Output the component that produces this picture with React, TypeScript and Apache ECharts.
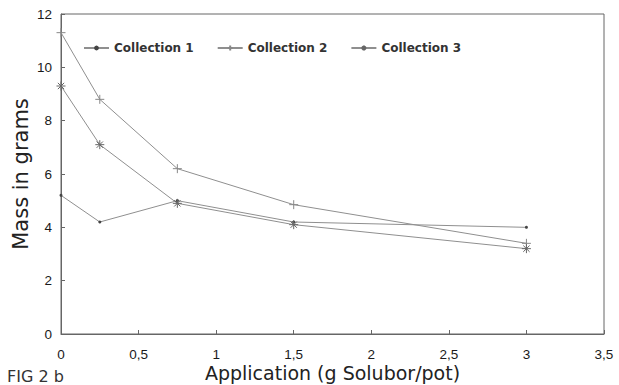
import React, { useEffect, useRef } from "react";
import * as echarts from "echarts";

const xValues = [0, 0.25, 0.75, 1.5, 3];
const collection1 = [5.2, 4.2, 5.0, 4.2, 4.0];
const collection2 = [11.3, 8.8, 6.2, 4.85, 3.4];
const collection3 = [9.3, 7.1, 4.9, 4.1, 3.2];
const seriesNames = ["Collection 1", "Collection 2", "Collection 3"];

const PLUS = "path://M5,0L5,10M0,5L10,5";
const STAR = "path://M5,0L5,10M0,5L10,5M1.5,1.5L8.5,8.5M8.5,1.5L1.5,8.5";

export default function App() {
  const ref = useRef<HTMLDivElement>(null);
  useEffect(() => {
    const chart = echarts.init(ref.current!, null, { renderer: "svg" });
    const lineColor = "#8f8f8f";
    const font = "Liberation Sans, Arial, sans-serif";
    const wide = "DejaVu Sans, sans-serif";
    const mk = (vals: number[]) => xValues.map((x, i) => [x, vals[i]]);
    chart.setOption({
      animation: false,
      backgroundColor: "#ffffff",
      grid: {
        left: 61,
        right: 15,
        top: 14,
        bottom: 51,
        show: true,
        borderColor: "#666",
        borderWidth: 1,
        containLabel: false,
        outerBoundsMode: "none",
      },
      legend: {
        top: 37,
        left: 78,
        itemWidth: 25,
        itemHeight: 6,
        itemGap: 23,
        textStyle: {
          fontFamily: wide,
          fontSize: 12,
          fontWeight: "bold",
          color: "#333",
        },
        data: seriesNames,
      },
      xAxis: {
        type: "value",
        min: 0,
        max: 3.5,
        interval: 0.5,
        name: "Application (g Solubor/pot)",
        nameLocation: "middle",
        nameGap: 28,
        nameMoveOverlap: false,
        nameTextStyle: { fontFamily: wide, fontSize: 19, color: "#222", lineHeight: 22 },
        axisLine: { lineStyle: { color: "#666" } },
        axisTick: { inside: true, length: 4, lineStyle: { color: "#666" } },
        splitLine: { show: false },
        axisLabel: {
          fontFamily: font,
          fontSize: 13.5,
          color: "#1a1a1a",
          margin: 13,
          formatter: (v: number) => String(v).replace(".", ","),
        },
      },
      yAxis: {
        type: "value",
        min: 0,
        max: 12,
        interval: 2,
        name: "Mass in grams",
        nameLocation: "middle",
        nameGap: 30,
        nameMoveOverlap: false,
        nameRotate: 90,
        nameTextStyle: { fontFamily: wide, fontSize: 21, color: "#222" },
        axisLine: { show: true, lineStyle: { color: "#666" } },
        axisTick: { show: true, inside: true, length: 4, lineStyle: { color: "#666" } },
        splitLine: { show: false },
        axisLabel: {
          fontFamily: font,
          fontSize: 13.5,
          color: "#1a1a1a",
          margin: 9,
        },
      },
      graphic: [
        {
          type: "text",
          left: 7,
          top: 368,
          style: { text: "FIG 2 b", font: `16px ${wide}`, fill: "#333" },
        },
      ],
      series: [
        {
          name: seriesNames[0],
          type: "line",
          data: mk(collection1),
          symbol: "circle",
          symbolSize: 3,
          lineStyle: { color: lineColor, width: 1 },
          itemStyle: { color: "#444" },
        },
        {
          name: seriesNames[1],
          type: "line",
          data: mk(collection2),
          symbol: PLUS,
          symbolSize: 9,
          lineStyle: { color: lineColor, width: 1 },
          itemStyle: { color: "none", borderColor: "#888", borderWidth: 1 },
        },
        {
          name: seriesNames[2],
          type: "line",
          data: mk(collection3),
          symbol: STAR,
          symbolSize: 9,
          lineStyle: { color: lineColor, width: 1 },
          itemStyle: { color: "none", borderColor: "#666", borderWidth: 1 },
        },
      ],
    });
    return () => chart.dispose();
  }, []);
  return <div ref={ref} style={{ width: 619, height: 385, position: "absolute", left: 0, top: 0 }} />;
}
